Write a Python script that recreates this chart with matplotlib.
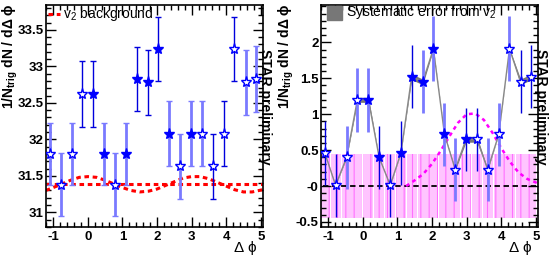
import numpy as np
import matplotlib
matplotlib.use('Agg')
import matplotlib.pyplot as plt
from matplotlib.ticker import MultipleLocator

plt.rcParams['font.family'] = ['Liberation Sans', 'DejaVu Sans']
plt.rcParams['mathtext.fontset'] = 'custom'
plt.rcParams['mathtext.rm'] = 'Liberation Sans'
plt.rcParams['mathtext.it'] = 'Liberation Sans'
plt.rcParams['mathtext.bf'] = 'Liberation Sans:bold'
plt.rcParams['hatch.linewidth'] = 0.8

# bin centres (delta phi)
dphi = [-1.10, -0.79, -0.47, -0.16, 0.16, 0.47, 0.79, 1.10, 1.41, 1.73,
        2.04, 2.36, 2.67, 2.98, 3.30, 3.61, 3.93, 4.24, 4.56, 4.87]
# filled (True) or open star
filled = [False, False, False, False, True, True, False, True, True, True,
          True, True, False, True, False, False, False, False, False, False]

# left panel: raw correlation
raw = [31.80, 31.38, 31.80, 32.62, 32.62, 31.80, 31.38, 31.80, 32.83, 32.78,
       33.24, 32.08, 31.63, 32.08, 32.08, 31.63, 32.08, 33.24, 32.78, 32.83]
raw_err = [0.43, 0.43, 0.43, 0.45, 0.45, 0.43, 0.43, 0.43, 0.44, 0.44,
           0.44, 0.44, 0.44, 0.44, 0.44, 0.44, 0.44, 0.44, 0.44, 0.45]
raw_dark = [False, False, False, True, True, False, False, False, True, True,
            True, False, False, False, False, True, True, True, False, False]

# v2 background curves
bg_x = [-1.22, -1.0, -0.75, -0.5, -0.25, 0.0, 0.25, 0.5, 0.75, 1.0, 1.25,
        1.5, 1.75, 2.0, 2.25, 2.5, 2.75, 3.0, 3.25, 3.5, 3.75, 4.0, 4.25,
        4.5, 4.75, 5.05]
bg_mod = [31.30, 31.34, 31.39, 31.44, 31.48, 31.49, 31.48, 31.44, 31.39,
          31.34, 31.30, 31.28, 31.29, 31.32, 31.37, 31.42, 31.47, 31.49,
          31.49, 31.46, 31.41, 31.36, 31.31, 31.28, 31.28, 31.31]
bg_flat = 31.385

# right panel: background subtracted
sub = [0.46, 0.01, 0.40, 1.20, 1.20, 0.40, 0.01, 0.46, 1.52, 1.45,
       1.91, 0.72, 0.23, 0.65, 0.65, 0.23, 0.72, 1.91, 1.45, 1.52]
sub_err = [0.44, 0.44, 0.44, 0.45, 0.45, 0.44, 0.44, 0.44, 0.44, 0.44,
           0.45, 0.44, 0.44, 0.44, 0.44, 0.44, 0.44, 0.45, 0.44, 0.44]
sub_dark = [True, True, False, False, False, True, True, True, True, False,
            False, False, False, True, True, False, False, False, True, True]
sys_v2 = [0.005, 0.005, 0.01, 0.035, 0.035, 0.005, 0.005, 0.005, 0.04, 0.04,
          0.01, 0.005, 0.01, 0.04, 0.04, 0.01, 0.005, 0.01, 0.04, 0.04]

# away-side gaussian
g_x = [1.25, 1.5, 1.75, 2.0, 2.25, 2.5, 2.75, 3.0, 3.25, 3.5, 3.75, 4.0,
       4.25, 4.5, 4.75, 5.05]
g_y = [0.0, 0.08, 0.17, 0.31, 0.49, 0.69, 0.88, 1.00, 1.01, 0.92, 0.74,
       0.53, 0.34, 0.19, 0.10, 0.04]
band_lo, band_hi = -0.44, 0.44

dark_col = '#0000dd'
light_col = '#7a7aff'
star_col = '#0000ff'

fig = plt.figure(figsize=(5.53, 2.6), dpi=100)
axL = fig.add_axes([45.7/553, 33/260, 216.8/553, 222/260])
axR = fig.add_axes([320.7/553, 33/260, 216.8/553, 222/260])


def style(ax):
    ax.set_xlim(-1.22, 5.05)
    ax.xaxis.set_major_locator(MultipleLocator(1))
    ax.xaxis.set_minor_locator(MultipleLocator(0.2))
    ax.yaxis.set_major_locator(MultipleLocator(0.5))
    ax.yaxis.set_minor_locator(MultipleLocator(0.1))
    ax.tick_params(which='both', direction='in', top=True, right=True,
                   width=1, labelsize=9.5)
    ax.tick_params(which='major', length=7)
    ax.tick_params(axis='y', which='major', pad=1.5)
    ax.tick_params(axis='x', which='major', pad=3)
    ax.tick_params(which='minor', length=3.5)
    for s in ax.spines.values():
        s.set_linewidth(1.2)


def stars(ax, y, err, dark, ecap):
    for i in range(len(dphi)):
        c = dark_col if dark[i] else light_col
        lw = 1.0 if dark[i] else 2.0
        ax.errorbar(dphi[i], y[i], yerr=err[i], fmt='none', ecolor=c,
                    elinewidth=lw, capsize=ecap, capthick=1, zorder=3)
    for i in range(len(dphi)):
        ax.plot(dphi[i], y[i], marker='*', ms=8, mec=star_col, mew=1,
                mfc=star_col if filled[i] else 'white', zorder=5)


# ---- left panel
stars(axL, raw, raw_err, raw_dark, 2)
axL.plot(bg_x, bg_mod, ls=(0, (1.5, 1.2)), color='red', lw=2.2, zorder=2)
axL.axhline(bg_flat, ls=(0, (1.5, 1.2)), color='red', lw=2.2, zorder=2)
axL.set_ylim(30.8, 33.84)
style(axL)
axL.set_yticks([31, 31.5, 32, 32.5, 33, 33.5])
axL.set_yticklabels(['31', '31.5', '32', '32.5', '33', '33.5'], fontweight='bold')
axL.plot([-1.15, -0.82], [33.72, 33.72], ls=(0, (1.5, 1.2)), color='red', lw=2.2)
axL.text(-0.73, 33.72, r'v$_2$ background', fontsize=10, va='center')

# ---- right panel
centers = np.array(dphi)
axR.bar(centers, band_hi - band_lo, bottom=band_lo, width=0.29,
        color='#ffc4ff', edgecolor='#ff70ff', hatch='||', lw=0, zorder=1)
axR.axhline(0, color='black', ls=(0, (3, 2)), lw=1.3, xmin=0.01, zorder=2)
axR.plot(g_x, g_y, ls=(0, (1.5, 1.5)), color='#ff00ff', lw=1.8, zorder=2)
lo = np.array(sub) - np.array(sys_v2)
hi = np.array(sub) + np.array(sys_v2)
axR.fill_between(dphi, lo, hi, color='#777777', lw=0, zorder=3)
axR.plot(dphi, sub, color='#888888', lw=1, zorder=3)
stars(axR, sub, sub_err, sub_dark, 0)
axR.set_ylim(-0.57, 2.52)
style(axR)
axR.set_yticks([-0.5, 0, 0.5, 1, 1.5, 2])
axR.set_yticklabels(['-0.5', '-0', '0.5', '1', '1.5', '2'], fontweight='bold')
axR.add_patch(plt.Rectangle((-1.03, 2.31), 0.43, 0.2, color='#777777',
                            zorder=6))
axR.text(-0.5, 2.42, r'Systematic error from v$_2$', fontsize=10, va='center')

for ax in (axL, axR):
    ax.set_xticks([-1, 0, 1, 2, 3, 4, 5])
    ax.set_xticklabels(['-1', '0', '1', '2', '3', '4', '5'], fontweight='bold')

ylab = r'$\mathbf{1/N_{trig}\ dN\ /\ d\Delta\ \phi}$'
fig.text(10/553, 1 - 3/260, ylab, rotation=90, ha='center', va='top',
         fontsize=10)
fig.text(286/553, 1 - 3/260, ylab, rotation=90, ha='center', va='top',
         fontsize=10)
fig.text(245/553, 1 - 248/260, r'$\Delta\ \phi$', ha='center', va='center',
         fontsize=11)
fig.text(520/553, 1 - 248/260, r'$\Delta\ \phi$', ha='center', va='center',
         fontsize=11)
fig.text(265/553, 1 - 107/260, 'STAR preliminary', rotation=-90,
         ha='center', va='center', fontsize=10, fontweight='bold')
fig.text(541/553, 1 - 107/260, 'STAR preliminary', rotation=-90,
         ha='center', va='center', fontsize=10, fontweight='bold')

fig.savefig('out.png', dpi=100)
